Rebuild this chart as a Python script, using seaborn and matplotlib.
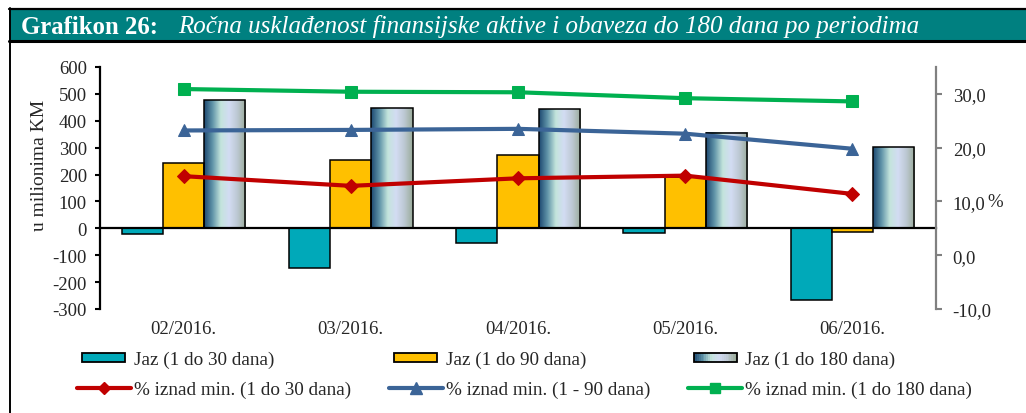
import numpy as np
import pandas as pd
import matplotlib
matplotlib.use("Agg")
import matplotlib.pyplot as plt
import seaborn as sns
from matplotlib.colors import LinearSegmentedColormap
from matplotlib.legend_handler import HandlerBase
from matplotlib.patches import Rectangle, Patch
from matplotlib.lines import Line2D
from matplotlib.ticker import FuncFormatter

# data
periods = ["02/2016.", "03/2016.", "04/2016.", "05/2016.", "06/2016."]
jaz_30 = [-20, -149, -53, -17, -268]
jaz_90 = [242, 253, 271, 190, -15]
jaz_180 = [476, 446, 442, 356, 301]
pct_30 = [14.7, 12.9, 14.3, 14.8, 11.4]
pct_90 = [23.2, 23.3, 23.5, 22.6, 19.8]
pct_180 = [30.9, 30.4, 30.3, 29.2, 28.6]

bar_labels = ["Jaz (1 do 30 dana)", "Jaz (1 do 90 dana)", "Jaz (1 do 180 dana)"]
line_labels = ["% iznad min. (1 do 30 dana)", "% iznad min. (1 - 90 dana)",
               "% iznad min. (1 do 180 dana)"]

TEAL = "#00A9B9"
YELLOW = "#FFC000"
RED = "#C00000"
BLUE = "#3B6497"
GREEN = "#00B050"
BAND = "#008080"
grad_colors = ["#1c4870", "#5f93a8", "#c3e4dc", "#d3dcf3", "#bcc8d2", "#9aab99"]
grad_cmap = LinearSegmentedColormap.from_list("cyl", grad_colors)

sns.set_style("white")
plt.rcParams["font.family"] = ["Liberation Serif", "DejaVu Serif"]
plt.rcParams["axes.unicode_minus"] = False

W, H = 1026, 414
fig = plt.figure(figsize=(W / 100, H / 100), dpi=100)
ax = fig.add_axes([100 / W, 1 - 310 / H, 836 / W, 242 / H])

df = pd.DataFrame({
    "period": periods * 3,
    "value": jaz_30 + jaz_90 + jaz_180,
    "series": [bar_labels[0]] * 5 + [bar_labels[1]] * 5 + [bar_labels[2]] * 5,
})
sns.barplot(data=df, x="period", y="value", hue="series",
            palette=[TEAL, YELLOW, "#9ab0c0"], saturation=1, width=0.74,
            gap=0, edgecolor="black", linewidth=1.1, legend=False, ax=ax)

# cylinder-like gradient for the 180-day bars
grad = np.linspace(0, 1, 256).reshape(1, -1)
for bar in ax.containers[2]:
    x0, y0 = bar.get_x(), bar.get_y()
    w, h = bar.get_width(), bar.get_height()
    ax.imshow(grad, cmap=grad_cmap, aspect="auto", interpolation="bilinear",
              extent=[x0, x0 + w, y0, y0 + h], zorder=bar.get_zorder() - 0.1)
    bar.set_facecolor("none")

ax.set_xlim(-0.5, len(periods) - 0.5)
ax.set_ylim(-300, 600)
ax.set_yticks(range(-300, 601, 100))
ax.set_xlabel("")
ax.set_ylabel("")

for s in ["top", "right"]:
    ax.spines[s].set_visible(False)
ax.spines["left"].set_color("black")
ax.spines["left"].set_linewidth(1.6)
ax.spines["bottom"].set_position(("data", 0))
ax.spines["bottom"].set_color("black")
ax.spines["bottom"].set_linewidth(1.6)
ax.spines["bottom"].set_zorder(5)

ax.set_xticks(np.arange(-0.5, len(periods), 1))
ax.tick_params(axis="x", direction="out", length=4, width=1, color="black",
               labelbottom=False)
ax.tick_params(axis="y", direction="out", length=3.5, width=1.5, color="black",
               pad=6, labelsize=13.5, left=True)

sec = ax.secondary_xaxis("bottom")
sec.set_xticks(range(len(periods)), periods)
sec.tick_params(length=0, pad=8, labelsize=13.5)
sec.spines["bottom"].set_visible(False)

# percentage lines on the right axis
ax2 = ax.twinx()
xs = np.arange(len(periods))
for vals, col, mk, ms in [(pct_30, RED, "D", 7), (pct_90, BLUE, "^", 9),
                          (pct_180, GREEN, "s", 8)]:
    sns.lineplot(x=xs, y=vals, ax=ax2, color=col, marker=mk, markersize=ms,
                 markeredgecolor=col, linewidth=3)
ax2.set_ylim(-10, 35)
ax2.set_yticks(range(-10, 31, 10))
ax2.yaxis.set_major_formatter(FuncFormatter(lambda v, p: f"{v:.1f}".replace(".", ",")))
ax2.set_xlim(-0.5, len(periods) - 0.5)
for s in ["top", "left", "bottom"]:
    ax2.spines[s].set_visible(False)
ax2.spines["right"].set_color("#808080")
ax2.spines["right"].set_linewidth(1.6)
ax2.tick_params(axis="y", direction="out", length=4, width=1.5, color="#808080",
                pad=8, labelsize=13.5, right=True)

fig.text(40 / W, 1 - 165 / H, "u milionima KM", rotation=90, ha="center",
         va="center", fontsize=14)
fig.text(995 / W, 1 - 203 / H, "%", ha="center", va="center", fontsize=13.5)

# header band
fig.add_artist(Rectangle((9 / W, 1 - 42 / H), 1 - 9 / W, 32 / H,
                         transform=fig.transFigure, facecolor=BAND,
                         edgecolor="none"))
fig.add_artist(Line2D([9 / W, 1], [1 - 10 / H] * 2, color="black", lw=1.6,
                      transform=fig.transFigure))
fig.add_artist(Line2D([9 / W, 1], [1 - 42 / H] * 2, color="black", lw=2.2,
                      transform=fig.transFigure))
fig.add_artist(Line2D([9.5 / W] * 2, [0, 1 - 9 / H], color="black", lw=1.4,
                      transform=fig.transFigure))
fig.text(21 / W, 1 - 27 / H, "Grafikon 26:", color="white", fontsize=17.8,
         fontweight="bold", va="center")
fig.text(178 / W, 1 - 27 / H,
         "Ročna usklađenost finansijske aktive i obaveza do 180 dana po periodima",
         color="white", fontsize=18, fontstyle="italic", va="center")


class BarHandler(HandlerBase):
    def __init__(self, colors):
        super().__init__()
        self.colors = colors

    def create_artists(self, legend, orig_handle, xdescent, ydescent, width,
                       height, fontsize, trans):
        w = width * 0.8
        h = height * 0.7
        x0 = -xdescent + width * 0.1
        y0 = -ydescent + (height - h) / 2
        n = len(self.colors)
        arts = []
        for i, c in enumerate(self.colors):
            arts.append(Rectangle((x0 + i * w / n, y0), w / n, h, facecolor=c,
                                  edgecolor="none", transform=trans))
        arts.append(Rectangle((x0, y0), w, h, facecolor="none",
                              edgecolor="black", lw=1.3, transform=trans))
        return arts


bar_handles = [Patch(label=l) for l in bar_labels]
handler_map = {
    bar_handles[0]: BarHandler([TEAL]),
    bar_handles[1]: BarHandler([YELLOW]),
    bar_handles[2]: BarHandler([matplotlib.colors.to_hex(grad_cmap(t))
                                for t in np.linspace(0, 1, 24)]),
}
line_handles = [Line2D([], [], color=c, marker=m, markersize=ms, lw=3,
                       markeredgecolor=c)
                for c, m, ms in [(RED, "D", 6), (BLUE, "^", 8), (GREEN, "s", 7)]]
handles, labels = [], []
for b, l, bl, ll in zip(bar_handles, line_handles, bar_labels, line_labels):
    handles += [b, l]
    labels += [bl, ll]
fig.legend(handles, labels, handler_map=handler_map, ncol=3, frameon=False,
           loc="upper left", bbox_to_anchor=(77 / W, 1 - 352 / H),
           fontsize=13.8, handlelength=2.8, handletextpad=0.15,
           columnspacing=2.0, labelspacing=0.65, borderaxespad=0,
           borderpad=0)

fig.savefig("out.png", dpi=100)
